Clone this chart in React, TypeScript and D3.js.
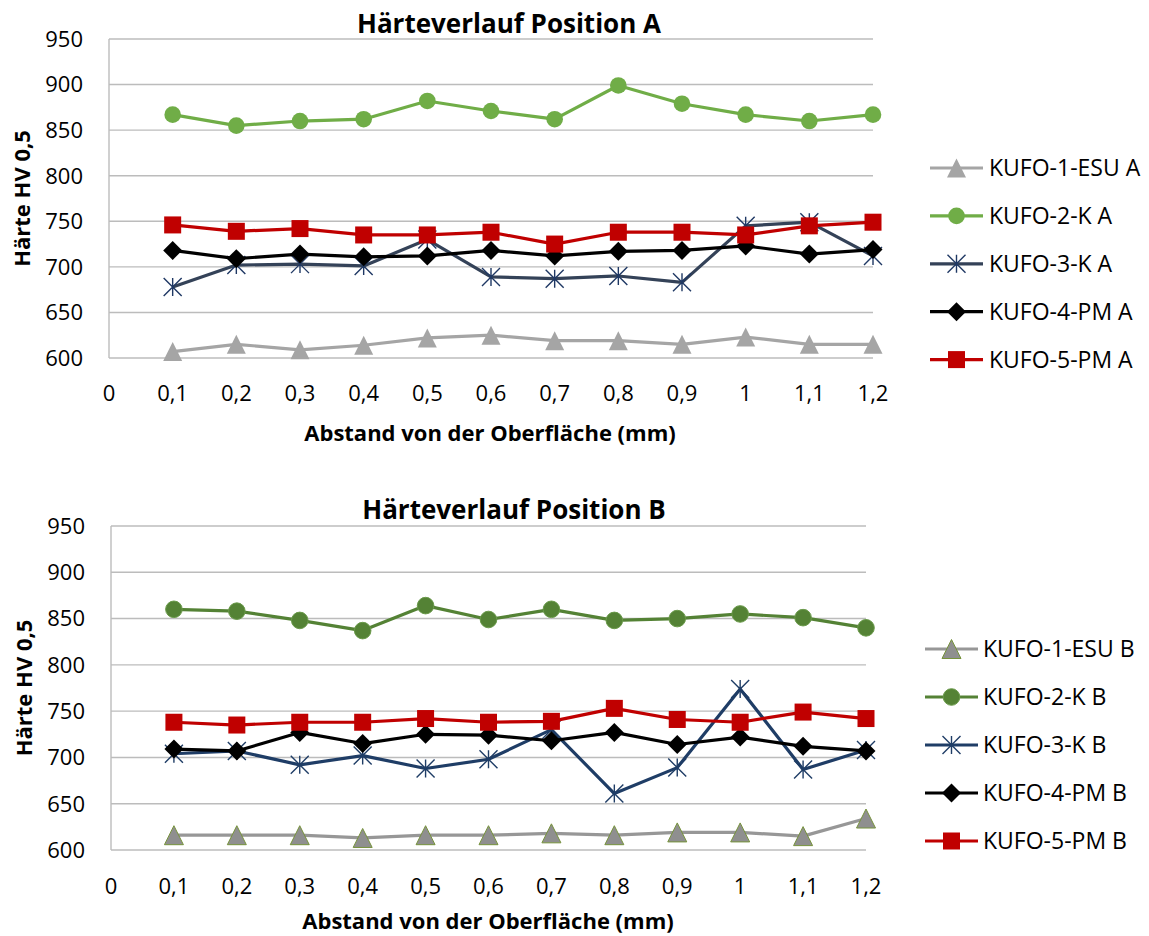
import React from "react";
import * as d3 from "d3";

// ---------- data ----------
const categories = ["0", "0,1", "0,2", "0,3", "0,4", "0,5", "0,6", "0,7", "0,8", "0,9", "1", "1,1", "1,2"];
const yTicks = [600, 650, 700, 750, 800, 850, 900, 950];

const seriesNamesA = ["KUFO-1-ESU A", "KUFO-2-K A", "KUFO-3-K A", "KUFO-4-PM A", "KUFO-5-PM A"];
const seriesNamesB = ["KUFO-1-ESU B", "KUFO-2-K B", "KUFO-3-K B", "KUFO-4-PM B", "KUFO-5-PM B"];

// values for categories 0,1 ... 1,2 (category "0" has no data)
const kufo1A = [607, 615, 609, 614, 622, 625, 619, 619, 615, 623, 615, 615];
const kufo2A = [867, 855, 860, 862, 882, 871, 862, 899, 879, 867, 860, 867];
const kufo3A = [678, 702, 703, 701, 730, 689, 687, 690, 683, 745, 749, 712];
const kufo4A = [718, 709, 714, 711, 712, 718, 712, 717, 718, 723, 714, 719];
const kufo5A = [746, 739, 742, 735, 735, 738, 725, 738, 738, 735, 745, 749];

const kufo1B = [616, 616, 616, 613, 616, 616, 618, 616, 619, 619, 615, 634];
const kufo2B = [860, 858, 848, 837, 864, 849, 860, 848, 850, 855, 851, 840];
const kufo3B = [704, 707, 692, 702, 688, 698, 730, 661, 689, 774, 687, 708];
const kufo4B = [709, 707, 727, 715, 725, 724, 718, 727, 714, 722, 712, 707];
const kufo5B = [738, 735, 738, 738, 742, 738, 739, 753, 741, 738, 749, 742];

const titleA = "Härteverlauf Position A";
const titleB = "Härteverlauf Position B";
const xTitle = "Abstand von der Oberfläche (mm)";
const yTitle = "Härte HV 0,5";

// ---------- styles ----------
type Style = { line: string; marker: string; fill: string; stroke: string };
const stylesA: Style[] = [
  { line: "#a5a5a5", marker: "triangle", fill: "#a5a5a5", stroke: "none" },
  { line: "#70ad47", marker: "circle", fill: "#70ad47", stroke: "none" },
  { line: "#344258", marker: "star", fill: "none", stroke: "#1f3864" },
  { line: "#000000", marker: "diamond", fill: "#000000", stroke: "none" },
  { line: "#c00000", marker: "square", fill: "#c00000", stroke: "none" },
];
const stylesB: Style[] = [
  { line: "#979797", marker: "triangle", fill: "#8f8f8f", stroke: "#77933c" },
  { line: "#548235", marker: "circle", fill: "#548235", stroke: "#6a9a4a" },
  { line: "#1f3d66", marker: "star", fill: "none", stroke: "#1f3d66" },
  { line: "#000000", marker: "diamond", fill: "#000000", stroke: "none" },
  { line: "#c00000", marker: "square", fill: "#c00000", stroke: "none" },
];

const FONT = "'Open Sans', 'Noto Sans', sans-serif";
const GRID = "#bcbcbc";

function Marker({ kind, x, y, st }: { kind: string; x: number; y: number; st: Style }) {
  if (kind === "circle") return <circle cx={x} cy={y} r={8.3} fill={st.fill} stroke={st.stroke} strokeWidth={1} />;
  if (kind === "square") return <rect x={x - 8.5} y={y - 8.5} width={17} height={17} fill={st.fill} />;
  if (kind === "diamond")
    return <path d={`M${x},${y - 9.5}L${x + 9.5},${y}L${x},${y + 9.5}L${x - 9.5},${y}Z`} fill={st.fill} />;
  if (kind === "triangle")
    return (
      <path
        d={`M${x},${y - 9.5}L${x + 9.5},${y + 9.5}L${x - 9.5},${y + 9.5}Z`}
        fill={st.fill}
        stroke={st.stroke}
        strokeWidth={1}
      />
    );
  // star: X + vertical bar
  const r = 9;
  return (
    <path
      d={`M${x - r},${y - r}L${x + r},${y + r}M${x - r},${y + r}L${x + r},${y - r}M${x},${y - r}L${x},${y + r}`}
      stroke={st.stroke}
      strokeWidth={1.4}
      fill="none"
    />
  );
}

type Layout = {
  left: number; right: number; top: number; bottom: number;
  titleX: number; titleY: number; yLabelX: number; xTickY: number; xTitleX: number; xTitleY: number;
  yTitleX: number; legendX: number; legendY: number; legendStep: number; legendTextX: number;
};

function Chart({ series, names, styles, title, L }: { series: number[][]; names: string[]; styles: Style[]; title: string; L: Layout }) {
  const x = d3.scalePoint<string>().domain(categories).range([L.left, L.right]).padding(0);
  const y = d3.scaleLinear().domain([600, 950]).range([L.bottom, L.top]);
  const line = d3
    .line<number>()
    .x((_, i) => x(categories[i + 1]) as number)
    .y((d) => y(d));
  const midY = (L.top + L.bottom) / 2;
  return (
    <g>
      <text x={L.titleX} y={L.titleY} textAnchor="middle" fontFamily={FONT} fontWeight="bold" fontSize={26} fill="#000">
        {title}
      </text>
      {yTicks.map((t) => (
        <g key={t}>
          <line x1={L.left} x2={L.right} y1={y(t)} y2={y(t)} stroke={GRID} strokeWidth={1.4} />
          <text x={L.yLabelX} y={y(t)} dy="0.36em" textAnchor="end" fontFamily={FONT} fontSize={22} fill="#000">
            {t}
          </text>
        </g>
      ))}
      <line x1={L.left} x2={L.left} y1={L.top} y2={L.bottom} stroke={GRID} strokeWidth={1.4} />
      {categories.map((c) => (
        <text key={c} x={x(c)} y={L.xTickY} dy="0.36em" textAnchor="middle" fontFamily={FONT} fontSize={22} fill="#000">
          {c}
        </text>
      ))}
      <text x={L.xTitleX} y={L.xTitleY} dy="0.36em" textAnchor="middle" fontFamily={FONT} fontWeight="bold" fontSize={22} fill="#000">
        {xTitle}
      </text>
      <text
        transform={`translate(${L.yTitleX},${midY}) rotate(-90)`}
        textAnchor="middle"
        dy="0.36em"
        fontFamily={FONT}
        fontWeight="bold"
        fontSize={22}
        fill="#000"
      >
        {yTitle}
      </text>
      {series.map((s, si) => (
        <g key={si}>
          <path d={line(s) as string} fill="none" stroke={styles[si].line} strokeWidth={3.2} strokeLinejoin="round" />
          {s.map((v, i) => (
            <Marker key={i} kind={styles[si].marker} x={x(categories[i + 1]) as number} y={y(v)} st={styles[si]} />
          ))}
        </g>
      ))}
      {names.map((n, i) => {
        const ly = L.legendY + i * L.legendStep;
        return (
          <g key={n}>
            <line x1={L.legendX} x2={L.legendX + 53} y1={ly} y2={ly} stroke={styles[i].line} strokeWidth={3.2} />
            <Marker kind={styles[i].marker} x={L.legendX + 26.5} y={ly} st={styles[i]} />
            <text x={L.legendTextX} y={ly} dy="0.36em" fontFamily={FONT} fontSize={23} fill="#000">
              {n}
            </text>
          </g>
        );
      })}
    </g>
  );
}

const layoutA: Layout = {
  left: 109, right: 873, top: 39, bottom: 358,
  titleX: 509, titleY: 33, yLabelX: 83, xTickY: 393, xTitleX: 490, xTitleY: 433,
  yTitleX: 22, legendX: 930, legendY: 168, legendStep: 47.9, legendTextX: 989,
};
const layoutB: Layout = {
  left: 111, right: 866, top: 526, bottom: 850,
  titleX: 514, titleY: 519, yLabelX: 85, xTickY: 886, xTitleX: 488, xTitleY: 921,
  yTitleX: 24, legendX: 925, legendY: 649, legendStep: 48, legendTextX: 983,
};

export default function App() {
  return (
    <svg width={1149} height={936} style={{ position: "absolute", left: 0, top: 0, background: "#fff" }}>
      <rect width={1149} height={936} fill="#fff" />
      <Chart series={[kufo1A, kufo2A, kufo3A, kufo4A, kufo5A]} names={seriesNamesA} styles={stylesA} title={titleA} L={layoutA} />
      <Chart series={[kufo1B, kufo2B, kufo3B, kufo4B, kufo5B]} names={seriesNamesB} styles={stylesB} title={titleB} L={layoutB} />
    </svg>
  );
}
